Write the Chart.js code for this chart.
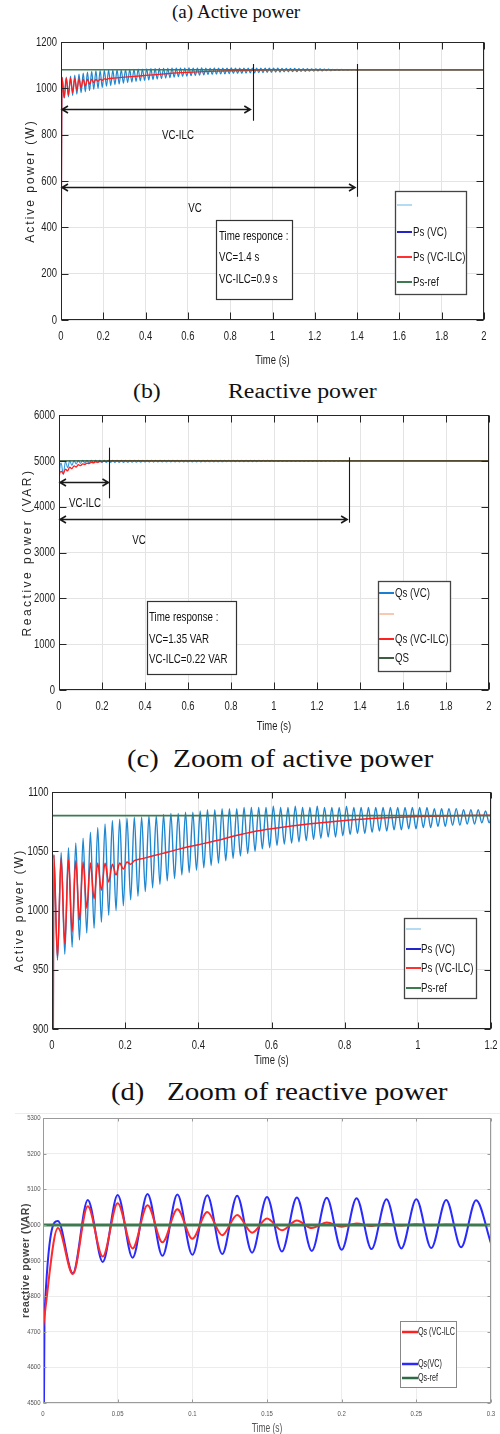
<!DOCTYPE html>
<html><head><meta charset="utf-8">
<script src="https://cdn.jsdelivr.net/npm/chart.js@4"></script>
<style>
html,body{margin:0;padding:0;background:#fff;}
body{width:500px;height:1434px;position:relative;overflow:hidden;}
.ttl{position:absolute;font-family:'Liberation Serif','Times New Roman',serif;color:#111;white-space:pre;line-height:1;transform-origin:0 50%;}
canvas{position:absolute;left:0;}
</style></head><body>
<div class="ttl" style="left:172px;top:3px;font-size:18px;transform:scaleX(1.06)">(a) Active power</div>
<div class="ttl" style="left:133px;top:381px;font-size:20px;transform:scaleX(1.19)">(b)</div>
<div class="ttl" style="left:228px;top:381px;font-size:20px;transform:scaleX(1.19)">Reactive power</div>
<div class="ttl" style="left:127px;top:746px;font-size:26px;transform:scaleX(1.1)">(c)</div>
<div class="ttl" style="left:173px;top:746px;font-size:26px;transform:scaleX(1.13)">Zoom of active power</div>
<div class="ttl" style="left:111px;top:1079px;font-size:26px;transform:scaleX(1.1)">(d)</div>
<div class="ttl" style="left:167px;top:1079px;font-size:26px;transform:scaleX(1.12)">Zoom of reactive power</div>
<div style="position:absolute;left:15px;top:1113px;width:485px;height:1px;background:#ececec"></div>
<canvas id="cA" width="500" height="347" style="top:28px"></canvas>
<canvas id="cB" width="500" height="340" style="top:400px"></canvas>
<canvas id="cC" width="500" height="295" style="top:776px"></canvas>
<canvas id="cD" width="500" height="329" style="top:1105px"></canvas>
<script>
// ---------------- DATA ----------------
// Active power, VC: successive peak / trough readings, one every half period (10 ms) from t = 5 ms
const pVcPeaks = [1047,1049,1053,1057,1061,1066,1070,1073,1076,1077,
  1078,1079,1079,1080,1080,1081,1082,1082,1083,1083,
  1084,1085,1085,1086,1086,1086,1087,1087,1087,1087,
  1088,1087,1087,1088,1087,1087,1088,1087,1087,1087,
  1088,1087,1087,1087,1087,1087,1087,1087,1087,1087,
  1087,1087,1086,1086,1086,1086,1085,1085,1085,1084,
  1084,1084,1083,1083,1082,1082,1082,1081,1081,1081];
const pVcTroughs = [958,963,969,975,981,985,990,996,1000,1004,
  1009,1012,1016,1019,1022,1025,1027,1030,1032,1034,
  1036,1038,1040,1042,1044,1046,1048,1050,1052,1053,
  1055,1056,1057,1058,1059,1060,1061,1062,1062,1063,
  1064,1065,1065,1066,1067,1067,1068,1068,1069,1069,
  1070,1070,1071,1071,1072,1072,1073,1073,1074,1074,
  1075,1075,1076,1076,1077,1077,1078,1078,1079,1079];
const pVcTailT = [1.4, 2.0];
const pVcTailV = [1080, 1080];
// Active power, VC-ILC
const pIlcPeaks = [1047,1044,1043,1042,1041,1040,1040,1040,1039,1040,1041,1042];
const pIlcTroughs = [960,972,982,992,1002,1010,1017,1024,1030,1035,1039];
const pIlcSmoothT = [0.25,0.3,0.35,0.4,0.45,0.5,0.55,0.6,0.7,0.8,0.9,1.0,1.1,1.2,1.4,2.0];
const pIlcSmoothV = [1044,1048,1052,1055.5,1059,1063,1066.5,1069,1073,1076,1078,1079.3,1080,1080.3,1080.3,1080.3];
const pRef = 1080;
const P_T0 = 0.005, HALF = 0.01;

// Reactive power (b), VC: peaks / troughs every half period from t = 10 ms
const qVcStart = 4600;
const qVcPeaks = [4950,4990,5000,5005,5008,5010,5010,5010,5010,5010,
  5010,5010,5010,5010,5010,5010,5010,5010,5010,5010,
  5010,5010,5010,5010,5010,5010,5010,5010,5010,5010,
  5010,5010,5010,5010,5010,5010,5010,5010,5010,5010,
  5010,5010,5009,5009,5009,5009,5009,5009,5009,5009,
  5008,5008,5008,5008,5008,5008,5008,5008,5007,5007,
  5007,5007,5006,5006,5006,5005,5005];
const qVcTroughs = [4700,4850,4900,4930,4945,4952,4955,4958,4960,4962,
  4963,4964,4965,4966,4967,4968,4969,4970,4970,4971,
  4972,4972,4973,4974,4974,4975,4975,4976,4976,4977,
  4977,4978,4978,4979,4979,4980,4980,4980,4981,4981,
  4982,4982,4982,4983,4983,4983,4984,4984,4984,4985,
  4985,4985,4986,4986,4986,4987,4987,4987,4988,4988,
  4988,4989,4989,4989,4990,4990,4990];
const qVcTailT = [1.35, 2.0];
const qVcTailV = [5000, 5000];
// Reactive power (b), VC-ILC: readings every 10 ms from t = 10 ms
const qIlc = [4770,4720,4820,4780,4860,4830,4890,4865,4915,4895,4935,4920,4952,4940,
  4965,4957,4976,4970,4985,4981,4991,4989,4996,4995,4999];
const qIlcStart = 4660;
const qIlcTailT = [0.3, 2.0];
const qIlcTailV = [5000, 5000];
const qRef = 5000;
const Q_T0 = 0.01;

// Reactive power zoom (d): readings every 10 ms
const dVc = [5011,4864,5070,4896,5084,4908,5087,4913,5085,4916,5083,4918,5082,4922,5078,
  4925,5077,4927,5076,4930,5075,4932,5072,4934,5072,4935,5070,4937,5069,4948];   // t = 0.01 .. 0.30
const dVcStart = 4745;
const dIlc = [4714,4991,4862,5052,4911,5061,4934,5055,4951,5044,4961,5036,4971,5028,4978,
  5018,4985,5012,4991,5007,4995,5004,4997,5003,4998,5002,4999,5001,5000,5000,5000]; // t = 0 .. 0.30
const dRef = 5000;

// Tick values / labels
const xTicksA = [0,0.2,0.4,0.6,0.8,1,1.2,1.4,1.6,1.8,2];
const xLabelsA = ['0','0.2','0.4','0.6','0.8','1','1.2','1.4','1.6','1.8','2'];
const yTicksA = [0,200,400,600,800,1000,1200];
const yTicksB = [0,1000,2000,3000,4000,5000,6000];
const xTicksC = [0,0.2,0.4,0.6,0.8,1,1.2];
const xLabelsC = ['0','0.2','0.4','0.6','0.8','1','1.2'];
const yTicksC = [900,950,1000,1050,1100];
const xTicksD = [0,0.05,0.1,0.15,0.2,0.25,0.3];
const xLabelsD = ['0','0.05','0.1','0.15','0.2','0.25','0.3'];
const yTicksD = [4500,4600,4700,4800,4900,5000,5100,5200,5300];

// ---------------- helpers ----------------
const SANS = "'Liberation Sans',Arial,sans-serif";

function interleave(peaks, troughs, t0, step){
  const pts = [];
  const n = peaks.length + troughs.length;
  for (let k = 0; k < n; k++){
    const v = (k % 2 === 0) ? peaks[k >> 1] : troughs[k >> 1];
    pts.push({x: +(t0 + k*step).toFixed(4), y: v});
  }
  return pts;
}
function seq(vals, t0, step){ return vals.map((v,k)=>({x:+(t0+k*step).toFixed(4), y:v})); }
function pairs(ts, vs){ return ts.map((t,i)=>({x:t, y:vs[i]})); }

const pVcData = [{x:0,y:0}].concat(interleave(pVcPeaks,pVcTroughs,P_T0,HALF), pairs(pVcTailT,pVcTailV));
const pIlcData = [{x:0,y:0}].concat(interleave(pIlcPeaks,pIlcTroughs,P_T0,HALF), pairs(pIlcSmoothT,pIlcSmoothV));
const qVcData = [{x:0,y:0},{x:0.001,y:qVcStart}].concat(interleave(qVcPeaks,qVcTroughs,Q_T0,HALF), pairs(qVcTailT,qVcTailV));
const qIlcData = [{x:0,y:0},{x:0.001,y:qIlcStart}].concat(seq(qIlc,Q_T0,HALF), pairs(qIlcTailT,qIlcTailV));
const dVcData = [{x:0,y:4000},{x:0.001,y:dVcStart}].concat(seq(dVc,0.01,HALF));
const dIlcData = seq(dIlc,0,HALF);

function ds(data,color,width,order){
  return {data, borderColor:color, borderWidth:width, pointRadius:0, fill:false,
          cubicInterpolationMode:'monotone', order};
}
function refLine(v, xmax, color, width){ return ds([{x:0,y:v},{x:xmax,y:v}], color, width, 0); }

function scales(o){
  return {
    x:{type:'linear', min:o.xt[0], max:o.xt[o.xt.length-1],
      afterBuildTicks:s=>{ s.ticks = o.xt.map(v=>({value:v})); },
      afterFit:s=>{ s.height = o.xh; },
      grid:{color:o.grid, lineWidth:1, drawTicks:false}, border:{display:false},
      ticks:{display:false, autoSkip:false, maxRotation:0, callback:(v,i)=>o.xl[i]}},
    y:{type:'linear', min:o.yt[0], max:o.yt[o.yt.length-1],
      afterBuildTicks:s=>{ s.ticks = o.yt.map(v=>({value:v})); },
      afterFit:s=>{ s.width = o.yw; },
      grid:{color:o.grid, lineWidth:1, drawTicks:false}, border:{display:false},
      ticks:{display:false, autoSkip:false, callback:v=>String(v)}}
  };
}

// condensed text (the original figure uses a horizontally squeezed sans-serif)
function ctext(ctx, text, x, y, font, sx, align, color){
  ctx.save(); ctx.translate(x, y); ctx.scale(sx, 1);
  ctx.font = font; ctx.fillStyle = color; ctx.textAlign = align; ctx.textBaseline = 'middle';
  ctx.fillText(text, 0, 0); ctx.restore();
}

const decor = {
  id:'decor',
  afterDatasetsDraw(chart, args, o){
    const ctx = chart.ctx, ca = chart.chartArea, xs = chart.scales.x, ys = chart.scales.y, T = o.top;
    ctx.save();
    ctx.strokeStyle = '#1a1a1a'; ctx.lineWidth = 1.1;
    (o.vlines||[]).forEach(l=>{
      const x = Math.round(xs.getPixelForValue(l.x))+0.5;
      ctx.beginPath(); ctx.moveTo(x, ys.getPixelForValue(l.y0)); ctx.lineTo(x, ys.getPixelForValue(l.y1)); ctx.stroke();
    });
    ctx.lineWidth = 1.6;
    (o.arrows||[]).forEach(a=>{
      const x0 = xs.getPixelForValue(a.x0)+1, x1 = xs.getPixelForValue(a.x1), y = Math.round(ys.getPixelForValue(a.y))+0.5;
      ctx.beginPath(); ctx.moveTo(x0,y); ctx.lineTo(x1,y);
      ctx.moveTo(x0+6,y-3.5); ctx.lineTo(x0,y); ctx.lineTo(x0+6,y+3.5);
      ctx.moveTo(x1-6,y-3.5); ctx.lineTo(x1,y); ctx.lineTo(x1-6,y+3.5);
      ctx.stroke();
    });
    (o.boxes||[]).forEach(b=>{
      ctx.fillStyle = '#fff'; ctx.fillRect(b.x0, b.y0-T, b.x1-b.x0, b.y1-b.y0);
      ctx.strokeStyle = b.color || '#333'; ctx.lineWidth = b.w || 1.2;
      ctx.strokeRect(b.x0+0.5, b.y0-T+0.5, b.x1-b.x0, b.y1-b.y0);
    });
    if (o.legend){
      const L = o.legend;
      ctx.fillStyle = '#fff'; ctx.fillRect(L.box[0], L.box[1]-T, L.box[2]-L.box[0], L.box[3]-L.box[1]);
      ctx.strokeStyle = L.border; ctx.lineWidth = L.bw;
      ctx.strokeRect(L.box[0]+0.5, L.box[1]-T+0.5, L.box[2]-L.box[0], L.box[3]-L.box[1]);
      L.items.forEach(it=>{
        ctx.strokeStyle = it.color; ctx.lineWidth = it.w || 2;
        ctx.beginPath(); ctx.moveTo(L.lx[0], it.y-T); ctx.lineTo(L.lx[1], it.y-T); ctx.stroke();
        if (it.label) ctext(ctx, it.label, L.tx, it.y-T, L.font, L.sx, 'left', L.tc);
      });
    }
    (o.texts||[]).forEach(t=>{
      ctext(ctx, t.text, t.x, t.y-T, o.tf.font, o.tf.sx, t.align || 'center', '#111');
    });
    // y title
    if (o.yTitle){
      const Y = o.yTitle;
      ctx.save(); ctx.translate(Y.x, (ca.top+ca.bottom)/2 + (Y.dy||0)); ctx.rotate(-Math.PI/2);
      ctx.fillStyle = Y.color; ctx.font = Y.font; ctx.textAlign='center'; ctx.textBaseline='middle';
      try { ctx.letterSpacing = Y.spacing; } catch(e) {}
      ctx.fillText(Y.text, 0, 0);
      ctx.restore();
    }
    // tick labels + x title, placed by the chart's scales
    const K = o.tickText;
    xs.ticks.forEach((t,i)=>{ ctext(ctx, o.xl[i], xs.getPixelForTick(i), ca.bottom + K.xoff, K.font, K.sx, 'center', K.color); });
    ys.ticks.forEach((t,i)=>{ ctext(ctx, String(t.value), ca.left - K.yoff, ys.getPixelForTick(i), K.font, K.sx, 'right', K.color); });
    ctext(ctx, 'Time (s)', (ca.left+ca.right)/2, o.xTitle.y - T, o.xTitle.font, o.xTitle.sx, 'center', K.color);
    // frame + inward ticks
    const F = o.frame;
    const l = Math.round(ca.left)+0.5, r = Math.round(ca.right)-0.5, tp = Math.round(ca.top)+0.5, bt = Math.round(ca.bottom)-0.5;
    ctx.strokeStyle = F.color; ctx.lineWidth = 1;
    ctx.strokeRect(l, tp, r-l, bt-tp);
    ctx.beginPath();
    xs.ticks.forEach((t,i)=>{ const p = Math.round(xs.getPixelForTick(i))+0.5;
      ctx.moveTo(p,bt); ctx.lineTo(p,bt-F.tick); ctx.moveTo(p,tp); ctx.lineTo(p,tp+F.tick); });
    ys.ticks.forEach((t,i)=>{ const p = Math.round(ys.getPixelForTick(i))+0.5;
      ctx.moveTo(l,p); ctx.lineTo(l+F.tick,p); ctx.moveTo(r,p); ctx.lineTo(r-F.tick,p); });
    ctx.stroke();
    ctx.restore();
  }
};
Chart.register(decor);

function make(id, datasets, sc, layout, decorOpts){
  return new Chart(document.getElementById(id), {
    type:'line', data:{datasets},
    options:{responsive:false, animation:false, devicePixelRatio:1, events:[],
      layout:{padding:layout},
      plugins:{legend:{display:false}, tooltip:{enabled:false}, decor:decorOpts},
      scales:sc}
  });
}

const VCBLUE = '#1f86d0', RED = '#ff1e1e', GREEN = '#3d7a50';
const TF = {font:"13.5px "+SANS, sx:0.72};
const TICK = {font:"13.5px "+SANS, sx:0.7, color:'#1e1e1e', xoff:16, yoff:4};
const XT = {font:"13.5px "+SANS, sx:0.7};

// (a)
make('cA', [
  refLine(pRef, 2, GREEN, 1.6),
  ds(pIlcData, RED, 1.3, 1),
  ds(pVcData, VCBLUE, 1.2, 2)
], scales({xt:xTicksA, xl:xLabelsA, yt:yTicksA, xh:50, yw:61, grid:'#e4e4e4'}),
  {top:14, right:16, bottom:5, left:0},
  {top:28, xl:xLabelsA, tickText:TICK, xTitle:Object.assign({y:360},XT), tf:TF,
   frame:{color:'#262626', tick:7},
   arrows:[{x0:0,x1:0.895,y:910},{x0:0,x1:1.39,y:575}],
   vlines:[{x:0.906,y0:860,y1:1105},{x:1.401,y0:532,y1:1105}],
   boxes:[{x0:216,y0:220,x1:292,y1:299,color:'#333',w:1.2}],
   texts:[{text:'VC-ILC',x:178,y:135},{text:'VC',x:195,y:208},
     {text:'Time responce :',x:219,y:236,align:'left'},
     {text:'VC=1.4 s',x:219,y:257,align:'left'},
     {text:'VC-ILC=0.9 s',x:219,y:279,align:'left'}],
   legend:{box:[395,191,466,294], border:'#444', bw:1.3, lx:[397,412], tx:413, tc:'#1a1a1a', font:TF.font, sx:TF.sx,
     items:[{label:'',color:'#b5dbf2',y:205},{label:'Ps (VC)',color:'#2323c8',y:232},
            {label:'Ps (VC-ILC)',color:'#ff3030',y:257},{label:'Ps-ref',color:GREEN,y:282}]},
   yTitle:{text:'Active power (W)', x:31, font:"12px "+SANS, spacing:'2px', color:'#262626'}
  });

// (b)
make('cB', [
  refLine(qRef, 2, 'rgba(40,80,40,0.75)', 1.8),
  ds(qIlcData, RED, 1.3, 1),
  ds(qVcData, '#3a96dc', 1.1, 2)
], scales({xt:xTicksA, xl:xLabelsA, yt:yTicksB, xh:45, yw:59, grid:'#e4e4e4'}),
  {top:15, right:11, bottom:5, left:0},
  {top:400, xl:xLabelsA, tickText:TICK, xTitle:Object.assign({y:726},XT), tf:TF,
   frame:{color:'#262626', tick:7},
   arrows:[{x0:0,x1:0.23,y:4531},{x0:0,x1:1.34,y:3724}],
   vlines:[{x:0.232,y0:4182,y1:5287},{x:1.347,y0:3650,y1:5077}],
   boxes:[{x0:147,y0:601,x1:236,y1:674,color:'#333',w:1.2}],
   texts:[{text:'VC-ILC',x:85,y:503},{text:'VC',x:139,y:540},
     {text:'Time response :',x:149,y:617,align:'left'},
     {text:'VC=1.35 VAR',x:149,y:639,align:'left'},
     {text:'VC-ILC=0.22 VAR',x:149,y:659,align:'left'}],
   legend:{box:[378,581,450,671], border:'#444', bw:1.3, lx:[379,394], tx:395, tc:'#1a1a1a', font:TF.font, sx:TF.sx,
     items:[{label:'Qs (VC)',color:'#1a7fd0',y:593},{label:'',color:'#f8c8b0',y:614},
            {label:'Qs (VC-ILC)',color:'#ff2020',y:639},{label:'QS',color:'#3d5e42',y:658}]},
   yTitle:{text:'Reactive power (VAR)', x:28, font:"12px "+SANS, spacing:'2.5px', color:'#262626'}
  });

// (c)
make('cC', [
  refLine(pRef, 1.2, GREEN, 1.8),
  ds(pIlcData, RED, 1.5, 1),
  ds(pVcData, VCBLUE, 1.4, 2)
], scales({xt:xTicksC, xl:xLabelsC, yt:yTicksC, xh:42, yw:52, grid:'#e4e4e4'}),
  {top:16, right:9, bottom:0, left:0},
  {top:776, xl:xLabelsC, tickText:Object.assign({},TICK,{yoff:3.5}), xTitle:Object.assign({y:1060},XT), tf:TF,
   frame:{color:'#262626', tick:6},
   legend:{box:[404,918,476,998], border:'#444', bw:1.3, lx:[406,421], tx:421, tc:'#1a1a1a', font:TF.font, sx:TF.sx,
     items:[{label:'',color:'#b5dbf2',y:929},{label:'Ps (VC)',color:'#2323c8',y:949},
            {label:'Ps (VC-ILC)',color:'#ff3030',y:968},{label:'Ps-ref',color:GREEN,y:988}]},
   yTitle:{text:'Active power (W)', x:20, font:"12px "+SANS, spacing:'2px', color:'#262626'}
  });

// (d)
make('cD', [
  refLine(dRef, 0.3, '#3e7a50', 3),
  ds(dIlcData, '#ff2a2a', 2, 1),
  ds(dVcData, '#2a2aff', 2, 2)
], scales({xt:xTicksD, xl:xLabelsD, yt:yTicksD, xh:31, yw:43, grid:'#ececec'}),
  {top:13, right:9, bottom:0, left:0},
  {top:1105, xl:xLabelsD, tickText:{font:"7.5px "+SANS, sx:0.8, color:'#555', xoff:11, yoff:2.5},
   xTitle:{y:1428, font:"13px "+SANS, sx:0.65}, tf:TF,
   frame:{color:'#9a9a9a', tick:3},
   legend:{box:[400,1321,456,1387], border:'#888', bw:1, lx:[402,418], tx:418, tc:'#222', font:"11px "+SANS, sx:0.65,
     items:[{label:'Qs (VC-ILC',color:'#ff2020',y:1332,w:2.5},{label:'Qs(VC)',color:'#2a2aff',y:1364,w:2.5},
            {label:'Qs-ref',color:'#2e6b45',y:1378,w:2.5}]},
   yTitle:{text:'reactive power (VAR)', x:26, font:"bold 10.5px "+SANS, spacing:'0.5px', color:'#444'}
  });
</script>
</body></html>
